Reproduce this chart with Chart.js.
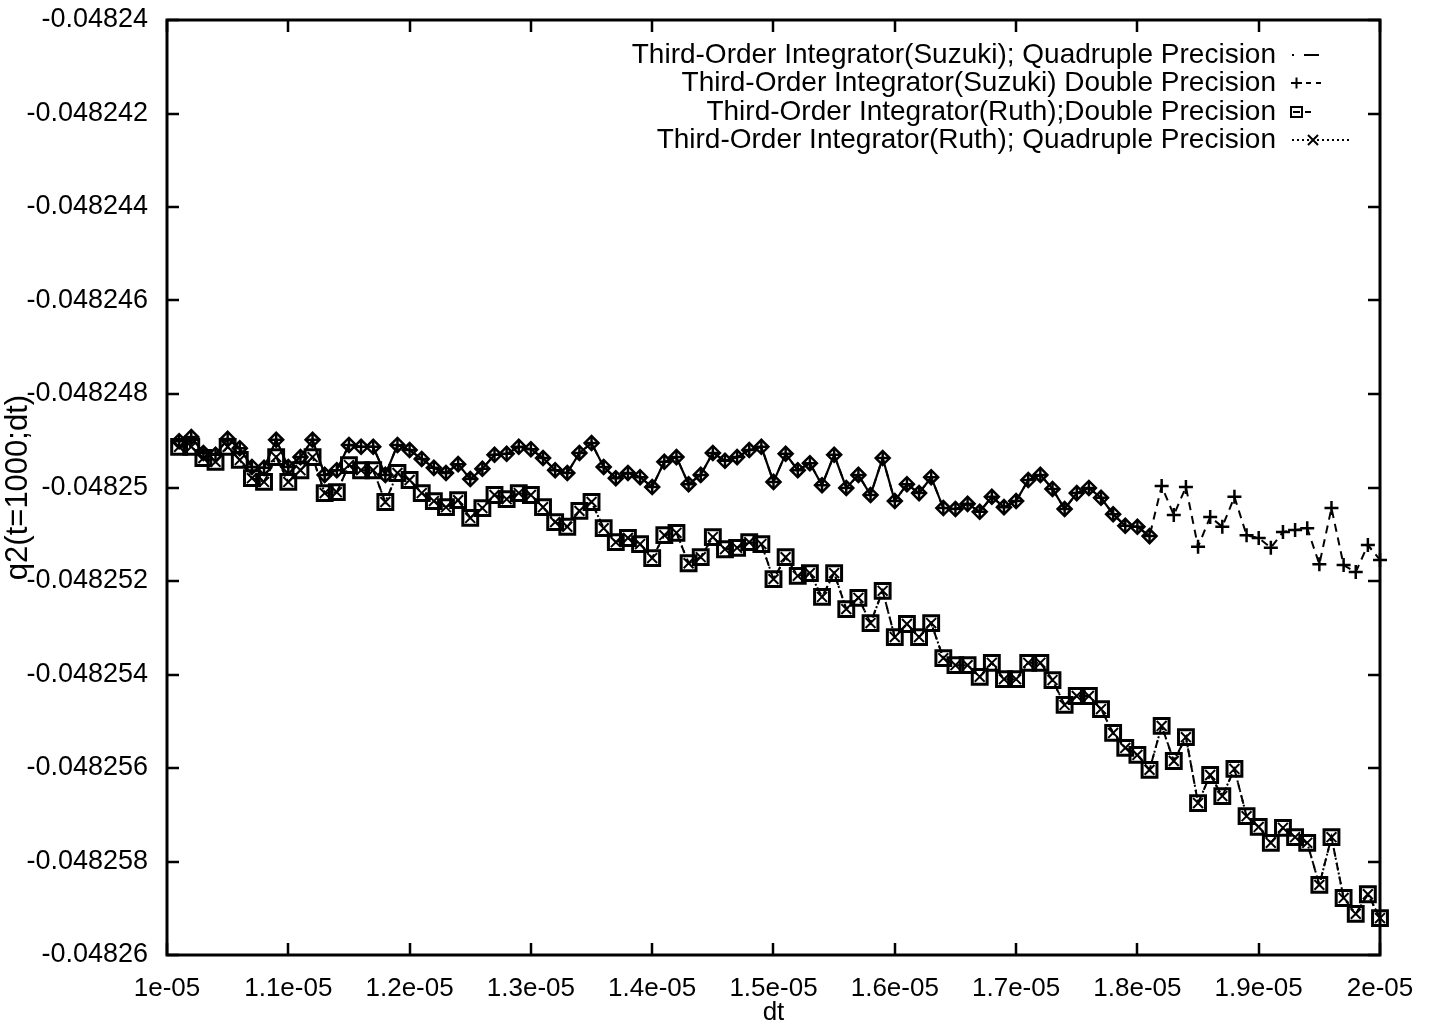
<!DOCTYPE html>
<html>
<head>
<meta charset="utf-8">
<script src="https://cdn.jsdelivr.net/npm/chart.js@4/dist/chart.umd.min.js"></script>
<style>
  html, body { margin: 0; padding: 0; background: #fff; }
  #wrap { width: 1432px; height: 1028px; position: relative; }
</style>
</head>
<body>
<div id="wrap"><canvas id="c" width="1432" height="1028"></canvas></div>
<script>
// Time step values (dt)
const dt = [
  1.01e-5,1.02e-5,1.03e-5,1.04e-5,1.05e-5,1.06e-5,1.07e-5,1.08e-5,1.09e-5,1.10e-5,
  1.11e-5,1.12e-5,1.13e-5,1.14e-5,1.15e-5,1.16e-5,1.17e-5,1.18e-5,1.19e-5,1.20e-5,
  1.21e-5,1.22e-5,1.23e-5,1.24e-5,1.25e-5,1.26e-5,1.27e-5,1.28e-5,1.29e-5,1.30e-5,
  1.31e-5,1.32e-5,1.33e-5,1.34e-5,1.35e-5,1.36e-5,1.37e-5,1.38e-5,1.39e-5,1.40e-5,
  1.41e-5,1.42e-5,1.43e-5,1.44e-5,1.45e-5,1.46e-5,1.47e-5,1.48e-5,1.49e-5,1.50e-5,
  1.51e-5,1.52e-5,1.53e-5,1.54e-5,1.55e-5,1.56e-5,1.57e-5,1.58e-5,1.59e-5,1.60e-5,
  1.61e-5,1.62e-5,1.63e-5,1.64e-5,1.65e-5,1.66e-5,1.67e-5,1.68e-5,1.69e-5,1.70e-5,
  1.71e-5,1.72e-5,1.73e-5,1.74e-5,1.75e-5,1.76e-5,1.77e-5,1.78e-5,1.79e-5,1.80e-5,
  1.81e-5,1.82e-5,1.83e-5,1.84e-5,1.85e-5,1.86e-5,1.87e-5,1.88e-5,1.89e-5,1.90e-5,
  1.91e-5,1.92e-5,1.93e-5,1.94e-5,1.95e-5,1.96e-5,1.97e-5,1.98e-5,1.99e-5,2.00e-5
];

// q2(t=1000;dt), Suzuki third-order integrator, quadruple precision (runs to dt = 1.81e-5)
const suzukiQuad = [
  -0.04824901,-0.04824892,-0.04824926,-0.04824930,-0.04824896,-0.04824916,-0.04824956,-0.04824958,-0.04824898,-0.04824956,
  -0.04824935,-0.04824898,-0.04824973,-0.04824963,-0.04824909,-0.04824913,-0.04824913,-0.04824973,-0.04824909,-0.04824920,
  -0.04824939,-0.04824958,-0.04824969,-0.04824950,-0.04824982,-0.04824960,-0.04824930,-0.04824928,-0.04824913,-0.04824918,
  -0.04824937,-0.04824963,-0.04824969,-0.04824926,-0.04824905,-0.04824956,-0.04824980,-0.04824969,-0.04824978,-0.04824999,
  -0.04824945,-0.04824935,-0.04824993,-0.04824973,-0.04824926,-0.04824943,-0.04824935,-0.04824920,-0.04824913,-0.04824988,
  -0.04824928,-0.04824963,-0.04824948,-0.04824995,-0.04824930,-0.04825001,-0.04824973,-0.04825016,-0.04824937,-0.04825029,
  -0.04824993,-0.04825012,-0.04824978,-0.04825044,-0.04825046,-0.04825035,-0.04825052,-0.04825020,-0.04825042,-0.04825029,
  -0.04824984,-0.04824973,-0.04825003,-0.04825046,-0.04825012,-0.04825001,-0.04825022,-0.04825057,-0.04825082,-0.04825084,
  -0.04825104
];

// Suzuki third-order integrator, double precision
const suzukiDouble = [
  -0.04824901,-0.04824892,-0.04824926,-0.04824930,-0.04824896,-0.04824916,-0.04824956,-0.04824958,-0.04824898,-0.04824956,
  -0.04824935,-0.04824898,-0.04824973,-0.04824963,-0.04824909,-0.04824913,-0.04824913,-0.04824973,-0.04824909,-0.04824920,
  -0.04824939,-0.04824958,-0.04824969,-0.04824950,-0.04824982,-0.04824960,-0.04824930,-0.04824928,-0.04824913,-0.04824918,
  -0.04824937,-0.04824963,-0.04824969,-0.04824926,-0.04824905,-0.04824956,-0.04824980,-0.04824969,-0.04824978,-0.04824999,
  -0.04824945,-0.04824935,-0.04824993,-0.04824973,-0.04824926,-0.04824943,-0.04824935,-0.04824920,-0.04824913,-0.04824988,
  -0.04824928,-0.04824963,-0.04824948,-0.04824995,-0.04824930,-0.04825001,-0.04824973,-0.04825016,-0.04824937,-0.04825029,
  -0.04824993,-0.04825012,-0.04824978,-0.04825044,-0.04825046,-0.04825035,-0.04825052,-0.04825020,-0.04825042,-0.04825029,
  -0.04824984,-0.04824973,-0.04825003,-0.04825046,-0.04825012,-0.04825001,-0.04825022,-0.04825057,-0.04825082,-0.04825084,
  -0.04825104,-0.04824997,-0.04825059,-0.04824999,-0.04825127,-0.04825063,-0.04825084,-0.04825020,-0.04825102,-0.04825108,
  -0.04825129,-0.04825095,-0.04825091,-0.04825087,-0.04825164,-0.04825044,-0.04825166,-0.04825181,-0.04825123,-0.04825155
];

// Ruth third-order integrator, double precision
const ruthDouble = [
  -0.04824913,-0.04824913,-0.04824937,-0.04824945,-0.04824913,-0.04824941,-0.04824980,-0.04824988,-0.04824935,-0.04824988,
  -0.04824963,-0.04824935,-0.04825012,-0.04825010,-0.04824952,-0.04824963,-0.04824963,-0.04825031,-0.04824969,-0.04824984,
  -0.04825012,-0.04825029,-0.04825042,-0.04825027,-0.04825065,-0.04825044,-0.04825016,-0.04825025,-0.04825012,-0.04825016,
  -0.04825042,-0.04825074,-0.04825084,-0.04825050,-0.04825031,-0.04825087,-0.04825117,-0.04825108,-0.04825121,-0.04825151,
  -0.04825102,-0.04825097,-0.04825162,-0.04825149,-0.04825106,-0.04825132,-0.04825129,-0.04825117,-0.04825121,-0.04825196,
  -0.04825149,-0.04825189,-0.04825183,-0.04825234,-0.04825183,-0.04825260,-0.04825236,-0.04825290,-0.04825221,-0.04825320,
  -0.04825292,-0.04825320,-0.04825290,-0.04825365,-0.04825380,-0.04825380,-0.04825405,-0.04825375,-0.04825410,-0.04825410,
  -0.04825375,-0.04825375,-0.04825412,-0.04825465,-0.04825446,-0.04825446,-0.04825474,-0.04825525,-0.04825557,-0.04825572,
  -0.04825604,-0.04825510,-0.04825585,-0.04825534,-0.04825675,-0.04825615,-0.04825660,-0.04825602,-0.04825703,-0.04825726,
  -0.04825760,-0.04825728,-0.04825748,-0.04825760,-0.04825850,-0.04825748,-0.04825878,-0.04825912,-0.04825870,-0.04825921
];

// Ruth third-order integrator, quadruple precision
const ruthQuad = [
  -0.04824913,-0.04824913,-0.04824937,-0.04824945,-0.04824913,-0.04824941,-0.04824980,-0.04824988,-0.04824935,-0.04824988,
  -0.04824963,-0.04824935,-0.04825012,-0.04825010,-0.04824952,-0.04824963,-0.04824963,-0.04825031,-0.04824969,-0.04824984,
  -0.04825012,-0.04825029,-0.04825042,-0.04825027,-0.04825065,-0.04825044,-0.04825016,-0.04825025,-0.04825012,-0.04825016,
  -0.04825042,-0.04825074,-0.04825084,-0.04825050,-0.04825031,-0.04825087,-0.04825117,-0.04825108,-0.04825121,-0.04825151,
  -0.04825102,-0.04825097,-0.04825162,-0.04825149,-0.04825106,-0.04825132,-0.04825129,-0.04825117,-0.04825121,-0.04825196,
  -0.04825149,-0.04825189,-0.04825183,-0.04825234,-0.04825183,-0.04825260,-0.04825236,-0.04825290,-0.04825221,-0.04825320,
  -0.04825292,-0.04825320,-0.04825290,-0.04825365,-0.04825380,-0.04825380,-0.04825405,-0.04825375,-0.04825410,-0.04825410,
  -0.04825375,-0.04825375,-0.04825412,-0.04825465,-0.04825446,-0.04825446,-0.04825474,-0.04825525,-0.04825557,-0.04825572,
  -0.04825604,-0.04825510,-0.04825585,-0.04825534,-0.04825675,-0.04825615,-0.04825660,-0.04825602,-0.04825703,-0.04825726,
  -0.04825760,-0.04825728,-0.04825748,-0.04825760,-0.04825850,-0.04825748,-0.04825878,-0.04825912,-0.04825870,-0.04825921
];

const seriesNames = [
  'Third-Order Integrator(Suzuki); Quadruple Precision',
  'Third-Order Integrator(Suzuki) Double Precision',
  'Third-Order Integrator(Ruth);Double Precision',
  'Third-Order Integrator(Ruth); Quadruple Precision'
];

const xTickValues = [1e-5,1.1e-5,1.2e-5,1.3e-5,1.4e-5,1.5e-5,1.6e-5,1.7e-5,1.8e-5,1.9e-5,2e-5];
const xTickLabels = ['1e-05','1.1e-05','1.2e-05','1.3e-05','1.4e-05','1.5e-05','1.6e-05','1.7e-05','1.8e-05','1.9e-05','2e-05'];
const yTickValues = [-0.04826,-0.048258,-0.048256,-0.048254,-0.048252,-0.04825,-0.048248,-0.048246,-0.048244,-0.048242,-0.04824];
const yTickLabels = ['-0.04826','-0.048258','-0.048256','-0.048254','-0.048252','-0.04825','-0.048248','-0.048246','-0.048244','-0.048242','-0.04824'];

const FONT = 'Liberation Sans, Arial, Helvetica, sans-serif';
const INK = '#000';

function pairs(xs, ys) {
  return ys.map((y, i) => ({ x: xs[i], y: y }));
}

// Frame with inward ticks on all four sides
const framePlugin = {
  id: 'frame',
  afterDatasetsDraw(chart) {
    const { ctx, chartArea: a, scales } = chart;
    const L = 12;
    ctx.save();
    ctx.strokeStyle = INK;
    ctx.lineWidth = 2.5;
    ctx.beginPath();
    xTickValues.forEach(v => {
      const px = Math.round(scales.x.getPixelForValue(v));
      ctx.moveTo(px, a.bottom); ctx.lineTo(px, a.bottom - L);
      ctx.moveTo(px, a.top); ctx.lineTo(px, a.top + L);
    });
    yTickValues.forEach(v => {
      const py = Math.round(scales.y.getPixelForValue(v));
      ctx.moveTo(a.left, py); ctx.lineTo(a.left + L, py);
      ctx.moveTo(a.right, py); ctx.lineTo(a.right - L, py);
    });
    ctx.stroke();
    ctx.lineWidth = 3;
    ctx.strokeRect(a.left, a.top, a.right - a.left, a.bottom - a.top);
    ctx.restore();
  }
};

// Key: right-justified text followed by line/point samples
const keyPlugin = {
  id: 'key',
  afterDraw(chart) {
    const { ctx } = chart;
    const textRight = 1276;
    const rows = [55, 83, 112, 140];
    ctx.save();
    ctx.fillStyle = INK;
    ctx.font = '28px ' + FONT;
    ctx.textAlign = 'right';
    ctx.textBaseline = 'middle';
    seriesNames.forEach((t, i) => ctx.fillText(t, textRight, rows[i]));
    ctx.strokeStyle = INK;
    ctx.lineWidth = 2;
    // row 1: solid sample
    ctx.beginPath(); ctx.moveTo(1304, rows[0]); ctx.lineTo(1319, rows[0]); ctx.stroke();
    ctx.fillRect(1292, rows[0] - 1, 2, 2);
    // row 2: plus with dashes
    ctx.beginPath();
    ctx.moveTo(1291, rows[1]); ctx.lineTo(1302, rows[1]);
    ctx.moveTo(1296.5, rows[1] - 5.5); ctx.lineTo(1296.5, rows[1] + 5.5);
    ctx.stroke();
    ctx.setLineDash([5, 5]);
    ctx.beginPath(); ctx.moveTo(1306, rows[1]); ctx.lineTo(1322, rows[1]); ctx.stroke();
    ctx.setLineDash([]);
    // row 3: box with short dash
    ctx.strokeRect(1291, rows[2] - 5, 11, 10);
    ctx.beginPath(); ctx.moveTo(1293, rows[2]); ctx.lineTo(1300, rows[2]); ctx.stroke();
    ctx.beginPath(); ctx.moveTo(1305, rows[2]); ctx.lineTo(1311, rows[2]); ctx.stroke();
    // row 4: dotted with cross
    ctx.setLineDash([2, 3]);
    ctx.beginPath(); ctx.moveTo(1292, rows[3]); ctx.lineTo(1350, rows[3]); ctx.stroke();
    ctx.setLineDash([]);
    ctx.beginPath();
    ctx.moveTo(1308, rows[3] - 5); ctx.lineTo(1318, rows[3] + 5);
    ctx.moveTo(1318, rows[3] - 5); ctx.lineTo(1308, rows[3] + 5);
    ctx.stroke();
    ctx.restore();
  }
};

new Chart(document.getElementById('c'), {
  type: 'line',
  data: {
    datasets: [
      {
        label: seriesNames[0],
        data: pairs(dt, suzukiQuad),
        borderColor: INK, borderWidth: 2.2, tension: 0,
        pointStyle: 'rectRot', pointRadius: 7,
        pointBorderWidth: 2.5, pointBorderColor: INK, pointBackgroundColor: 'rgba(0,0,0,0)',
        clip: false
      },
      {
        label: seriesNames[1],
        data: pairs(dt, suzukiDouble),
        borderColor: INK, borderWidth: 2, borderDash: [8, 6], tension: 0,
        pointStyle: 'cross', pointRadius: 7,
        pointBorderWidth: 2.5, pointBorderColor: INK, pointBackgroundColor: 'rgba(0,0,0,0)',
        clip: false
      },
      {
        label: seriesNames[2],
        data: pairs(dt, ruthDouble),
        borderColor: INK, borderWidth: 2, borderDash: [8, 6], tension: 0,
        pointStyle: 'rect', pointRadius: 10.5,
        pointBorderWidth: 3, pointBorderColor: INK, pointBackgroundColor: 'rgba(0,0,0,0)',
        clip: false
      },
      {
        label: seriesNames[3],
        data: pairs(dt, ruthQuad),
        borderColor: INK, borderWidth: 2, borderDash: [2, 3], tension: 0,
        pointStyle: 'crossRot', pointRadius: 7,
        pointBorderWidth: 2, pointBorderColor: INK, pointBackgroundColor: 'rgba(0,0,0,0)',
        clip: false
      }
    ]
  },
  options: {
    responsive: false,
    animation: false,
    devicePixelRatio: 1,
    layout: { padding: { left: 0, right: 52, top: 20, bottom: 0 } },
    plugins: { legend: { display: false }, tooltip: { enabled: false } },
    scales: {
      x: {
        type: 'linear', min: 1e-5, max: 2e-5,
        afterBuildTicks: s => { s.ticks = xTickValues.map(v => ({ value: v })); },
        afterFit: s => { s.height = 73; s.paddingLeft = 0; s.paddingRight = 0; },
        grid: { display: false, drawTicks: false },
        border: { display: false },
        ticks: {
          autoSkip: false, maxRotation: 0, minRotation: 0,
          padding: 18, color: INK,
          font: { family: FONT, size: 26 },
          callback: (v, i) => xTickLabels[i]
        },
        title: {
          display: true, text: 'dt', color: INK,
          font: { family: FONT, size: 26 },
          padding: { top: 0, bottom: 0 }
        }
      },
      y: {
        type: 'linear', min: -0.04826, max: -0.04824,
        afterBuildTicks: s => { s.ticks = yTickValues.map(v => ({ value: v })); },
        afterFit: s => { s.width = 167; s.paddingTop = 0; s.paddingBottom = 0; },
        grid: { display: false, drawTicks: false },
        border: { display: false },
        ticks: {
          autoSkip: false, padding: 19, color: INK,
          font: { family: FONT, size: 27 },
          callback: (v, i) => yTickLabels[i]
        },
        title: {
          display: true, text: 'q2(t=1000;dt)', color: INK,
          font: { family: FONT, size: 31 },
          padding: { top: 0, bottom: 0 }
        }
      }
    }
  },
  plugins: [framePlugin, keyPlugin]
});
</script>
</body>
</html>
